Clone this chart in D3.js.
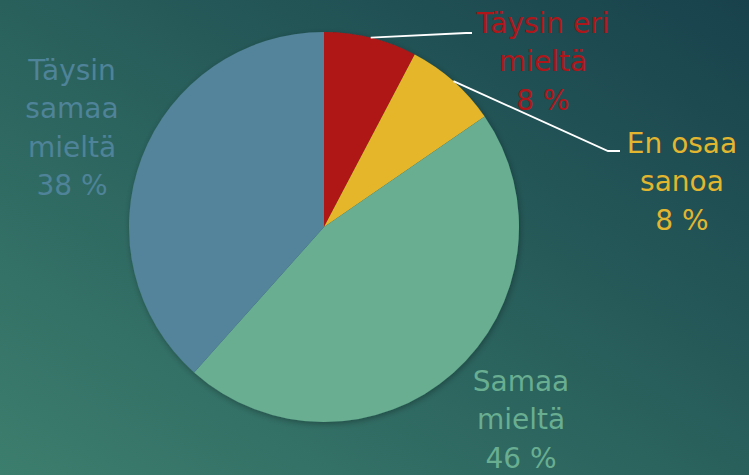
<!DOCTYPE html>
<html>
<head>
<meta charset="utf-8">
<script src="https://cdn.jsdelivr.net/npm/d3@7"></script>
<style>
  html, body { margin: 0; padding: 0; overflow: hidden; }
  svg { display: block; }
</style>
</head>
<body>
<div id="chart"></div>
<script>
var svgWidth = 749;
var svgHeight = 475;

// data (shares of answers, %)
var categories = ["Täysin eri mieltä", "En osaa sanoa", "Samaa mieltä", "Täysin samaa mieltä"];
var values = [7.7, 7.7, 46.2, 38.4];
var labelLines = [["Täysin eri", "mieltä"], ["En osaa", "sanoa"], ["Samaa", "mieltä"], ["Täysin", "samaa", "mieltä"]];

var sliceColors = ["#AF1515", "#E6B62A", "#69AE91", "#53849B"];
var textColors = ["#AE161A", "#E2B62E", "#69AE91", "#4F8399"];

// where each label block sits (centre x, first baseline y)
var labelPos = [[543, 33], [682, 153], [521, 391], [72, 80]];
var lineStep = 38.3;

var cx = 324, cy = 227, radius = 195;

var svg = d3.select("#chart")
  .append("svg")
  .attr("width", svgWidth)
  .attr("height", svgHeight);

var defs = svg.append("defs");

var bg = defs.append("linearGradient")
  .attr("id", "bg")
  .attr("x1", "0").attr("y1", "1")
  .attr("x2", "1").attr("y2", "0");
bg.append("stop").attr("offset", "0%").attr("stop-color", "#3C7E6E");
bg.append("stop").attr("offset", "50%").attr("stop-color", "#29605C");
bg.append("stop").attr("offset", "100%").attr("stop-color", "#18414C");

var shadow = defs.append("filter")
  .attr("id", "shadow")
  .attr("x", "-20%").attr("y", "-20%")
  .attr("width", "140%").attr("height", "140%");
shadow.append("feDropShadow")
  .attr("dx", 1).attr("dy", 2)
  .attr("stdDeviation", 3)
  .attr("flood-color", "#000")
  .attr("flood-opacity", 0.3);

svg.append("rect")
  .attr("width", svgWidth)
  .attr("height", svgHeight)
  .attr("fill", "url(#bg)");

var pie = d3.pie().sort(null).value(d => d);
var arcs = pie(values);

var arc = d3.arc().innerRadius(0).outerRadius(radius);

var pieGroup = svg.append("g")
  .attr("transform", `translate(${cx}, ${cy})`);

pieGroup.append("g")
  .attr("filter", "url(#shadow)")
  .selectAll("path")
  .data(arcs)
  .enter()
  .append("path")
  .attr("d", arc)
  .attr("fill", (d, i) => sliceColors[i]);

// leader lines for the two small slices
function edgePoint(d) {
  var a = (d.startAngle + d.endAngle) / 2;
  return [cx + radius * Math.sin(a), cy - radius * Math.cos(a)];
}

var leaders = [
  { i: 0, pts: [[466, 33], [472, 33]] },
  { i: 1, pts: [[608, 151], [620, 151]] }
];

svg.selectAll("polyline.leader")
  .data(leaders)
  .enter()
  .append("polyline")
  .attr("class", "leader")
  .attr("points", d => [edgePoint(arcs[d.i])].concat(d.pts).map(p => p.join(",")).join(" "))
  .attr("fill", "none")
  .attr("stroke", "#FFFFFF")
  .attr("stroke-width", 1.8);

// labels
var fmt = d3.format(".0f");

var labels = svg.selectAll("text.lbl")
  .data(arcs)
  .enter()
  .append("text")
  .attr("class", "lbl")
  .attr("text-anchor", "middle")
  .attr("font-family", "'DejaVu Sans', sans-serif")
  .attr("font-size", "28px")
  .attr("fill", (d, i) => textColors[i]);

labels.each(function(d, i) {
  var t = d3.select(this);
  var lines = labelLines[i].concat([fmt(d.data) + " %"]);
  lines.forEach(function(s, k) {
    t.append("tspan")
      .attr("x", labelPos[i][0])
      .attr("y", labelPos[i][1] + k * lineStep)
      .text(s);
  });
});
</script>
</body>
</html>
